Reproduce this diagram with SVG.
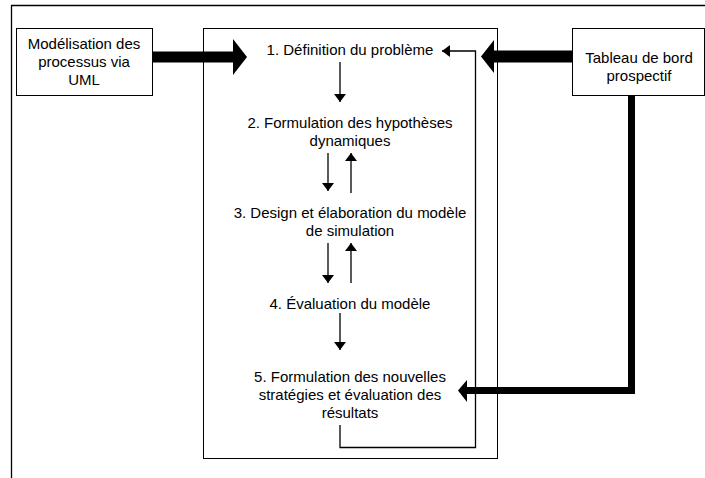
<svg xmlns="http://www.w3.org/2000/svg" width="705" height="478" viewBox="0 0 705 478">
<style>
text{font-family:"Liberation Sans",Arial,sans-serif;font-size:15px;fill:#000;text-anchor:middle}
.box{fill:#fff;stroke:#000;stroke-width:1}
.thin{fill:none;stroke:#000;stroke-width:1.3}
</style>
<defs>
<marker id="ah" markerWidth="8" markerHeight="12" refX="8" refY="6" orient="auto" markerUnits="userSpaceOnUse">
<path d="M0,0 L8,6 L0,12 Z" fill="#000"/>
</marker>
</defs>
<rect width="705" height="478" fill="#fff"/>
<path d="M11.5,478 V5.5 H705" fill="none" stroke="#000" stroke-width="1.3"/>
<g id="central">
<rect class="box" x="203.5" y="28.5" width="294" height="430"/>
</g>
<g id="uml">
<rect class="box" x="16.5" y="28.5" width="136" height="67"/>
<text x="84" y="49">Modélisation des</text>
<text x="84" y="67">processus via</text>
<text x="84" y="85">UML</text>
</g>
<g id="tableau">
<rect class="box" x="572.5" y="28.5" width="132" height="67"/>
<text x="639" y="63">Tableau de bord</text>
<text x="639" y="81">prospectif</text>
</g>
<g id="step1"><text x="350" y="55">1. Définition du problème</text></g>
<g id="step2"><text x="350" y="128">2. Formulation des hypothèses</text><text x="350" y="146">dynamiques</text></g>
<g id="step3"><text x="350" y="218">3. Design et élaboration du modèle</text><text x="350" y="236">de simulation</text></g>
<g id="step4"><text x="350" y="309">4. Évaluation du modèle</text></g>
<g id="step5"><text x="350" y="382">5. Formulation des nouvelles</text><text x="350" y="400">stratégies et évaluation des</text><text x="350" y="418">résultats</text></g>
<g id="connectors">
<path d="M153,57 H234" stroke="#000" stroke-width="11" fill="none"/>
<path d="M233,39 L247,57 L233,75 Z" fill="#000"/>
<path d="M572,56.5 H492" stroke="#000" stroke-width="12" fill="none"/>
<path d="M494,40 L481,56.5 L494,73 Z" fill="#000"/>
<path d="M631.5,96 V390.5 H464" stroke="#000" stroke-width="7" fill="none"/>
<path d="M467,380 L458,390.5 L467,402 Z" fill="#000"/>
<path class="thin" d="M340,425 V447.5 H475.5 V51 H442" marker-end="url(#ah)"/>
<path class="thin" d="M340,62 V102" marker-end="url(#ah)"/>
<path class="thin" d="M328,153 V191" marker-end="url(#ah)"/>
<path class="thin" d="M351,193 V153" marker-end="url(#ah)"/>
<path class="thin" d="M328,243 V283" marker-end="url(#ah)"/>
<path class="thin" d="M351,283 V243" marker-end="url(#ah)"/>
<path class="thin" d="M340,313 V350" marker-end="url(#ah)"/>
</g>
</svg>
